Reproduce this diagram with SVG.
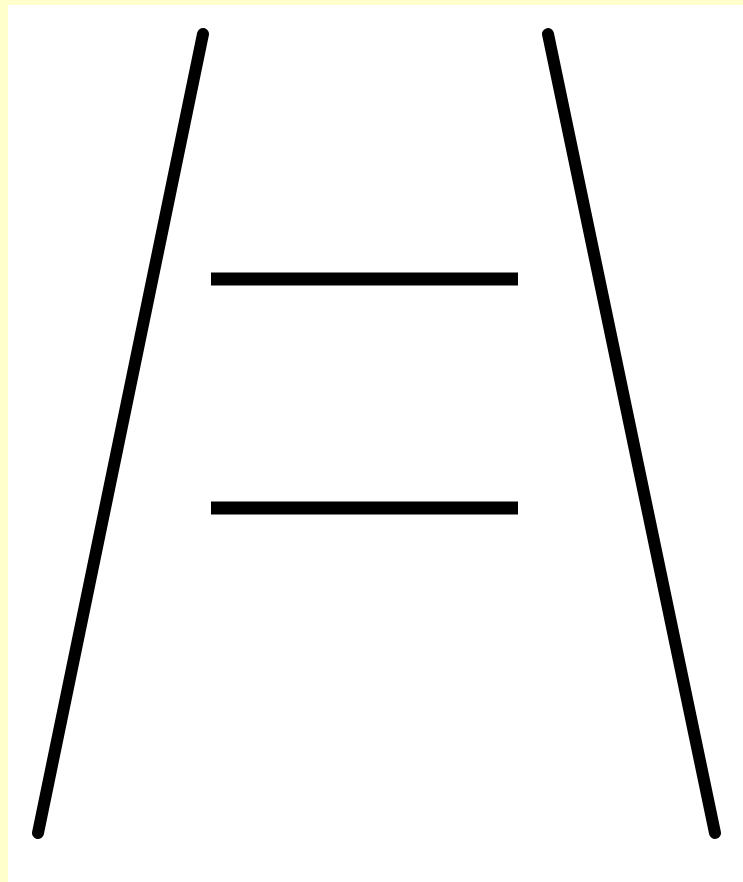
<svg xmlns="http://www.w3.org/2000/svg" width="743" height="882" viewBox="0 0 743 882">
<style>
.ln{stroke:#000;stroke-width:12;stroke-linecap:round;fill:none}
.rung{stroke:#000;stroke-width:13;stroke-linecap:butt;fill:none}
</style>
<rect x="0" y="0" width="743" height="882" fill="#FFFFCC"/>
<rect x="8" y="5" width="735" height="877" fill="#FFFFFF"/>
<g id="left-rail"><line class="ln" x1="203" y1="34" x2="38" y2="833"/></g>
<g id="right-rail"><line class="ln" x1="548" y1="34" x2="715" y2="833"/></g>
<g id="rung-top"><line class="rung" x1="211" y1="279" x2="518" y2="279"/></g>
<g id="rung-bottom"><line class="rung" x1="211" y1="508" x2="518" y2="508"/></g>
</svg>
